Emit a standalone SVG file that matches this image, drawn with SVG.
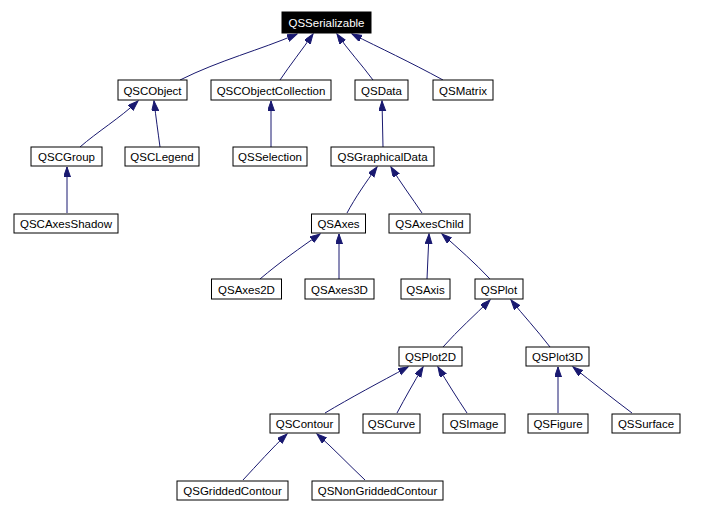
<svg xmlns="http://www.w3.org/2000/svg" width="701" height="513" viewBox="0 0 701 513">
<style>
.n rect{fill:#fff;stroke:#000;stroke-width:1}
.n text{font-family:"Liberation Sans",Arial,sans-serif;font-size:11.5px;text-anchor:middle;fill:#000}
#QSSerializable rect{fill:#000}
#QSSerializable text{fill:#fff}
.e path{fill:none;stroke:#191970;stroke-width:1;marker-end:url(#ah)}
</style>
<defs>
<marker id="ah" markerUnits="userSpaceOnUse" markerWidth="11" markerHeight="8" refX="10" refY="3.5" orient="auto">
<path d="M0,0 L10,3.5 L0,7 z" fill="#191970" stroke="#191970" stroke-width="1"/>
</marker>
</defs>
<rect width="701" height="513" fill="#fff"/>
<g class="e">
<path d="M180,80 C220,60 260,50 297,34"/>
<path d="M280,80 C290,65 302,50 313,34"/>
<path d="M373,80 C362,65 348,50 337,34"/>
<path d="M443,80 C410,62 380,48 352,34"/>
<path d="M80,147 C97,132 120,118 138,101"/>
<path d="M160,147 C158,132 156,118 154,101"/>
<path d="M271,147 L271,101"/>
<path d="M383,147 L382,101"/>
<path d="M67,213 L67,167"/>
<path d="M347,213 C355,198 366,182 377,167"/>
<path d="M422,213 C412,198 400,182 391,167"/>
<path d="M260,279 C280,262 300,248 320,234"/>
<path d="M339,279 L339,234"/>
<path d="M427,279 L429,234"/>
<path d="M490,279 C475,263 458,248 442,234"/>
<path d="M443,347 C458,330 475,315 490,300"/>
<path d="M550,347 C537,330 523,315 511,300"/>
<path d="M325,413 C350,398 380,382 408,367"/>
<path d="M397,413 C405,398 414,382 423,367"/>
<path d="M467,413 C457,398 447,382 438,367"/>
<path d="M558,413 L558,367"/>
<path d="M632,413 C612,398 592,382 573,367"/>
<path d="M243,480 C257,465 272,448 287,434"/>
<path d="M365,480 C349,465 333,448 317,434"/>
</g>
<g id="QSSerializable" class="n"><rect x="282" y="12" width="89" height="21"/><text x="326.5" y="27">QSSerializable</text></g>
<g id="QSCObject" class="n"><rect x="118" y="80" width="69" height="20"/><text x="152.5" y="94.5">QSCObject</text></g>
<g id="QSCObjectCollection" class="n"><rect x="211" y="80" width="120" height="20"/><text x="271" y="94.5">QSCObjectCollection</text></g>
<g id="QSData" class="n"><rect x="355" y="80" width="53" height="20"/><text x="381.5" y="94.5">QSData</text></g>
<g id="QSMatrix" class="n"><rect x="433" y="80" width="60" height="20"/><text x="463" y="94.5">QSMatrix</text></g>
<g id="QSCGroup" class="n"><rect x="31" y="147" width="71" height="19"/><text x="66.5" y="161">QSCGroup</text></g>
<g id="QSCLegend" class="n"><rect x="125" y="147" width="74" height="19"/><text x="162" y="161">QSCLegend</text></g>
<g id="QSSelection" class="n"><rect x="233" y="147" width="74" height="19"/><text x="270" y="161">QSSelection</text></g>
<g id="QSGraphicalData" class="n"><rect x="331" y="147" width="103" height="19"/><text x="382.5" y="161">QSGraphicalData</text></g>
<g id="QSCAxesShadow" class="n"><rect x="14" y="214" width="104" height="19"/><text x="66" y="228">QSCAxesShadow</text></g>
<g id="QSAxes" class="n"><rect x="311.5" y="214" width="54" height="19"/><text x="338.5" y="228">QSAxes</text></g>
<g id="QSAxesChild" class="n"><rect x="389" y="214" width="81" height="19"/><text x="429.5" y="228">QSAxesChild</text></g>
<g id="QSAxes2D" class="n"><rect x="211.5" y="279" width="70" height="20"/><text x="246.5" y="293.5">QSAxes2D</text></g>
<g id="QSAxes3D" class="n"><rect x="305" y="279" width="69" height="20"/><text x="339.5" y="293.5">QSAxes3D</text></g>
<g id="QSAxis" class="n"><rect x="401" y="279" width="49" height="20"/><text x="425.5" y="293.5">QSAxis</text></g>
<g id="QSPlot" class="n"><rect x="475" y="279" width="48" height="20"/><text x="499" y="293.5">QSPlot</text></g>
<g id="QSPlot2D" class="n"><rect x="399" y="347" width="63" height="19"/><text x="430.5" y="361">QSPlot2D</text></g>
<g id="QSPlot3D" class="n"><rect x="526" y="347" width="63" height="19"/><text x="557.5" y="361">QSPlot3D</text></g>
<g id="QSContour" class="n"><rect x="270" y="414" width="69" height="19"/><text x="304.5" y="428">QSContour</text></g>
<g id="QSCurve" class="n"><rect x="363" y="414" width="57" height="19"/><text x="391.5" y="428">QSCurve</text></g>
<g id="QSImage" class="n"><rect x="443" y="414" width="62" height="19"/><text x="474" y="428">QSImage</text></g>
<g id="QSFigure" class="n"><rect x="528" y="414" width="60" height="19"/><text x="558" y="428">QSFigure</text></g>
<g id="QSSurface" class="n"><rect x="612" y="414" width="68" height="19"/><text x="646" y="428">QSSurface</text></g>
<g id="QSGriddedContour" class="n"><rect x="177" y="481" width="111" height="19"/><text x="232.5" y="495">QSGriddedContour</text></g>
<g id="QSNonGriddedContour" class="n"><rect x="312" y="481" width="131" height="19"/><text x="377.5" y="495">QSNonGriddedContour</text></g>
</svg>
